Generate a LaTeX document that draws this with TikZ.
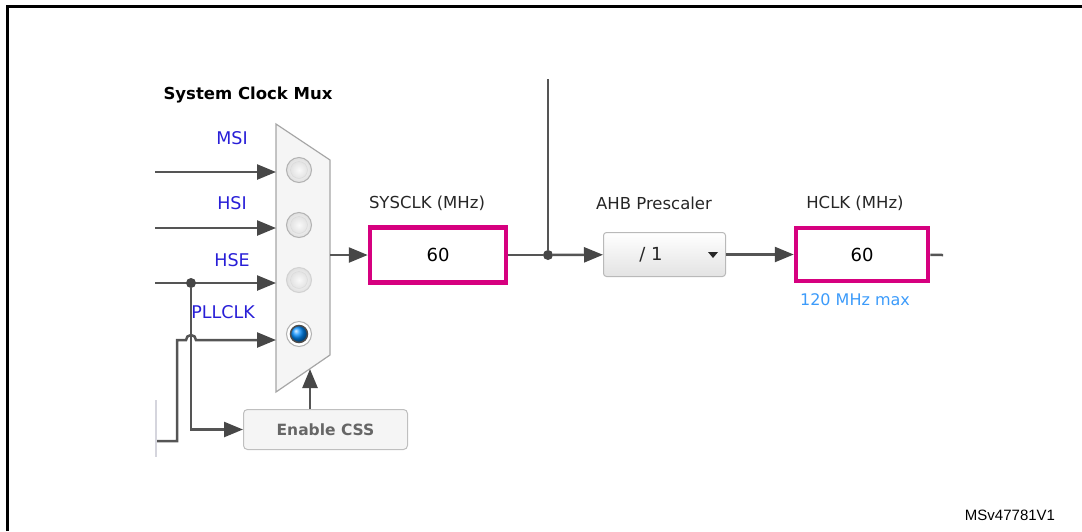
\documentclass[tikz,border=0pt]{standalone}
\usepackage{fontspec}
\setmainfont{DejaVu Sans}
\newfontfamily\notefont{Liberation Sans}
\usetikzlibrary{arrows.meta,positioning,shadings}
\definecolor{mpink}{RGB}{214,0,127}
\definecolor{mblue}{RGB}{40,30,215}
\definecolor{lblue}{RGB}{60,155,250}
\definecolor{wirec}{RGB}{85,85,85}
\newcommand{\RadioBtn}[3][gray!60]{
  \node[circle,minimum size=25pt,inner sep=0pt,draw=#1,line width=1pt,
  inner color=white,outer color=gray!25] (#2) at #3 {};
  \node[circle,minimum size=17pt,inner sep=0pt,draw=gray!30,
  inner color=gray!5,outer color=gray!22] at #3 {};
}
\newcommand{\RadioSel}[2]{
  \node[circle,minimum size=25pt,inner sep=0pt,draw=gray!60,line width=1pt,
  fill=white] (#1) at #2 {};
  \node[circle,minimum size=17pt,inner sep=0pt,draw=black!70,line width=1.5pt,
  ball color=cyan!55!blue] at #2 {};
}

\begin{document}
\begin{tikzpicture}[x=1pt,y=-1pt,
  lbl/.style={font=\fontsize{16.5}{18}\selectfont,text=black!85},
  src/.style={font=\fontsize{17.5}{19}\selectfont,text=mblue},
  valbox/.style={draw=mpink,line width=4.5pt,fill=white,
    font=\fontsize{18}{20}\selectfont},
  wire/.style={draw=wirec,line width=2.5pt},
  feed/.style={wire,-{Triangle[length=19pt,width=15pt,color=black!72]}},
  dot/.style={circle,fill=black!72,inner sep=0pt,minimum size=10pt}]
  \useasboundingbox (0,0) rectangle (1082,531);
  \draw[line width=3pt] (7.5,531) -- (7.5,6.5) -- (1082,6.5);

  % clock mux
  \node[font=\bfseries\fontsize{16.5}{18}\selectfont] (mux-title) at (248,95)
  {System Clock Mux};
  \path[draw=gray!70,line width=1.2pt,fill=gray!8]
  (276,124) -- (330,160) -- (330,355) -- (276,392) -- cycle;
  \RadioBtn{rb-msi}{(299,170)}
  \RadioBtn{rb-hsi}{(299,225)}
  \RadioBtn[gray!35]{rb-hse}{(299,280)}
  \RadioSel{rb-pll}{(299,334)}
  \coordinate (mux-out) at (330,255);
  \coordinate (mux-sel) at (310,369);

  % inputs
  \foreach \src/\y/\ly in {MSI/172/138,HSI/228/203,HSE/283/260}{
    \coordinate (w-\src) at (155,\y);
    \coordinate (in-\src) at (276,\y);
    \node[src] (lbl-\src) at (232,\ly) {\src};
    \draw[feed] (w-\src) -- (in-\src);
  }
  \node[src] (lbl-PLL) at (223,312) {PLLCLK};
  \coordinate (w-PLL) at (155,441);
  \coordinate (in-PLL) at (276,340);
  \node[dot] (hse-tap) at (191,283) {};

  \node[draw=gray!50,line width=1pt,fill=gray!8,rounded corners=4pt,
  minimum width=164pt,minimum height=40pt,text=gray!80!black,
  font=\bfseries\fontsize{15.5}{17}\selectfont] (css) at (325.5,429.5)
  {Enable CSS};
  \draw[feed] (hse-tap) |- (css);
  \draw[feed] (w-PLL) -| (177,340) -- (186,340)
  arc[start angle=180,end angle=0,radius=5pt] -- (in-PLL);
  \draw[feed] (css.north -| mux-sel) -- (mux-sel);
  \draw[blue!10!gray!30,line width=2pt] (156,400) -- (156,457);

  % SYSCLK -> AHB -> HCLK
  \node[valbox,minimum width=136pt,minimum height=55pt] (sysclk) at (438,255) {60};
  \node[lbl] (sysclk-lbl) at (427,203) {SYSCLK (MHz)};
  \draw[feed] (mux-out) -- (sysclk);
  \node[dot] (sys-tap) at (548,255) {};
  \coordinate (tap-top) at (548,79);
  \draw[wire] (sysclk) -- (sys-tap) -- (tap-top);

  \node[draw=gray!55,line width=1pt,rounded corners=3pt,top color=white,
  bottom color=gray!22,minimum width=122pt,minimum height=44pt] (ahb)
  at (664.5,254.5) {};
  \node[font=\fontsize{18}{20}\selectfont,text=black!85] (ahb-val) at (651,255) {/ 1};
  \fill[black!85] (708,252) -- (718,252) -- (713,258) -- cycle;
  \node[lbl] (ahb-lbl) at (654,203) {AHB Prescaler};
  \draw[feed] (sys-tap) -- (ahb);

  \node[valbox,minimum width=132pt,minimum height=53pt] (hclk) at (862,254.5) {60};
  \node[lbl] (hclk-lbl) at (855,203) {HCLK (MHz)};
  \node[font=\fontsize{16}{18}\selectfont,text=lblue] (hclk-max) at (855,300)
  {120 MHz max};
  \coordinate (hclk-out) at (943,255);
  \draw[feed] (ahb) -- (hclk);
  \draw[wire] (hclk) -- (hclk-out);

  \node[font=\notefont\fontsize{15}{17}\selectfont] (fig-id) at (1010,515)
  {MSv47781V1};
\end{tikzpicture}
\end{document}
